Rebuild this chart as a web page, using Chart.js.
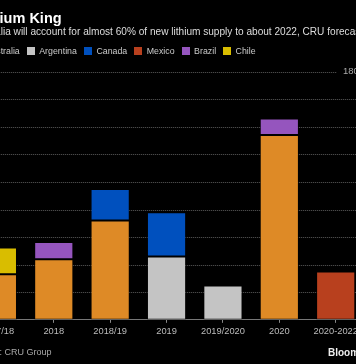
<!DOCTYPE html>
<html><head><meta charset="utf-8">
<script src="https://cdn.jsdelivr.net/npm/chart.js@4.4.1/dist/chart.umd.min.js"></script>
<style>
html,body{margin:0;padding:0;background:#000;width:356px;height:364px;overflow:hidden;position:relative;font-family:"Liberation Sans",Arial,sans-serif;}
.t{position:absolute;white-space:nowrap;line-height:1;}
#title{top:10.7px;left:0;font-weight:bold;font-size:14.5px;color:#fff;}
#sub{top:27.2px;left:0;font-size:10.1px;color:#ddd;}
#legend{top:46.5px;left:0;font-size:8.8px;color:#ccc;display:flex;align-items:center;height:9px;}
.item{display:flex;align-items:center;margin-right:7px;}
.sw{width:8px;height:8px;margin-right:4.5px;flex:none;}
#src{top:348px;left:0;font-size:9px;color:#aaa;}
#bb{top:348px;left:328px;font-size:10px;font-weight:bold;color:#eee;}
#wrap{position:absolute;left:-40px;top:0;width:410px;height:364px;}
</style></head><body>
<div id="wrap"><canvas id="c"></canvas></div>
<div id="title" class="t"><span id="tcut">Lith</span>ium King</div>
<div id="sub" class="t"><span id="scut">Austra</span>lia will account for almost 60% of new lithium supply to about 2022, CRU forecasts</div>
<div id="legend" class="t"></div>
<div id="src" class="t">Source: <span id="cru">CRU Group</span></div>
<div id="bb" class="t">Bloomberg</div>
<script>
const categories = ["2017/18","2018","2018/19","2019","2019/2020","2020","2020-2022"];
const seriesNames = ["Australia","Argentina","Canada","Mexico","Brazil","Chile"];
const australia = [33, 44, 72, null, null, 134, null];
const argentina = [null, null, null, 46, 25, null, null];
const canada    = [null, null, 23, 32, null, null, null];
const mexico    = [null, null, null, null, null, null, 35];
const brazil    = [null, 12.5, null, null, null, 12, null];
const chile     = [19.5, null, null, null, null, null, null];
const yTicks = [0,20,40,60,80,100,120,140,160,180];
const yTickLabels = ["","","","","","","","","","180"];

const colors = ["#DE8A26","#C4C4C4","#0050BE","#B8401E","#9555BE","#D9BD00"];
const values = [australia, argentina, canada, mexico, brazil, chile];
const FONT = '"Liberation Sans", Arial, sans-serif';
const OFFX = 40; // canvas offset

const gridPlugin = {
  id: 'gridPlug',
  beforeDatasetsDraw(chart){
    const {ctx, chartArea, scales:{y}} = chart;
    ctx.save();
    ctx.strokeStyle = '#5c5c5c'; ctx.lineWidth = 1; ctx.setLineDash([1,1]);
    yTicks.forEach((v,i)=>{
      if (v === 0) return;
      const py = Math.round(y.getPixelForValue(v)) + 0.5;
      const x1 = yTickLabels[i] ? 337 + OFFX : chart.width;
      ctx.beginPath(); ctx.moveTo(chartArea.left, py); ctx.lineTo(x1, py); ctx.stroke();
    });
    ctx.restore();
  },
  afterDraw(chart){
    const {ctx, scales:{y}} = chart;
    ctx.save();
    ctx.fillStyle = '#aaa'; ctx.font = '9.5px ' + FONT; ctx.textBaseline = 'middle'; ctx.textAlign = 'left';
    yTicks.forEach((v,i)=>{
      if (!yTickLabels[i]) return;
      ctx.fillText(yTickLabels[i], 343 + OFFX, y.getPixelForValue(v));
    });
    ctx.restore();
  }
};

new Chart(document.getElementById('c'), {
  type: 'bar',
  data: {
    labels: categories,
    datasets: seriesNames.map((n,i)=>({
      label: n, data: values[i], backgroundColor: colors[i],
      borderColor: 'rgba(0,0,0,0.45)', borderWidth: 1, borderSkipped: false,
      categoryPercentage: 1, barPercentage: 0.695
    }))
  },
  options: {
    responsive: true, maintainAspectRatio: false, animation: false,
    layout: { padding: { left: 9.2, right: 6.1, top: 71.7, bottom: 24 } },
    plugins: { legend: { display: false }, tooltip: { enabled: false } },
    scales: {
      x: {
        stacked: true, offset: true,
        grid: { display: true, offset: false, drawOnChartArea: false, drawTicks: true, tickLength: 3, color: '#888' },
        border: { display: true, color: '#777', width: 1 },
        ticks: { color: '#bbb', font: { size: 9.3, family: FONT }, padding: 3, maxRotation: 0, autoSkip: false }
      },
      y: { stacked: true, min: 0, max: 180, display: false }
    }
  },
  plugins: [gridPlugin]
});

// legend from series
const lg = document.getElementById('legend');
seriesNames.forEach((n,i)=>{
  const it = document.createElement('div'); it.className='item';
  const sw = document.createElement('div'); sw.className='sw'; sw.style.background = colors[i];
  const tx = document.createElement('span'); tx.textContent = n;
  it.appendChild(sw); it.appendChild(tx); lg.appendChild(it);
});
const argSw = lg.children[1].firstChild;
lg.style.left = (27 - argSw.offsetLeft) + 'px';
document.getElementById('title').style.left = (-document.getElementById('tcut').offsetWidth) + 'px';
document.getElementById('sub').style.left = (-document.getElementById('scut').offsetWidth + 0.5) + 'px';
document.getElementById('src').style.left = (5 - document.getElementById('cru').offsetLeft) + 'px';
</script>
</body></html>
